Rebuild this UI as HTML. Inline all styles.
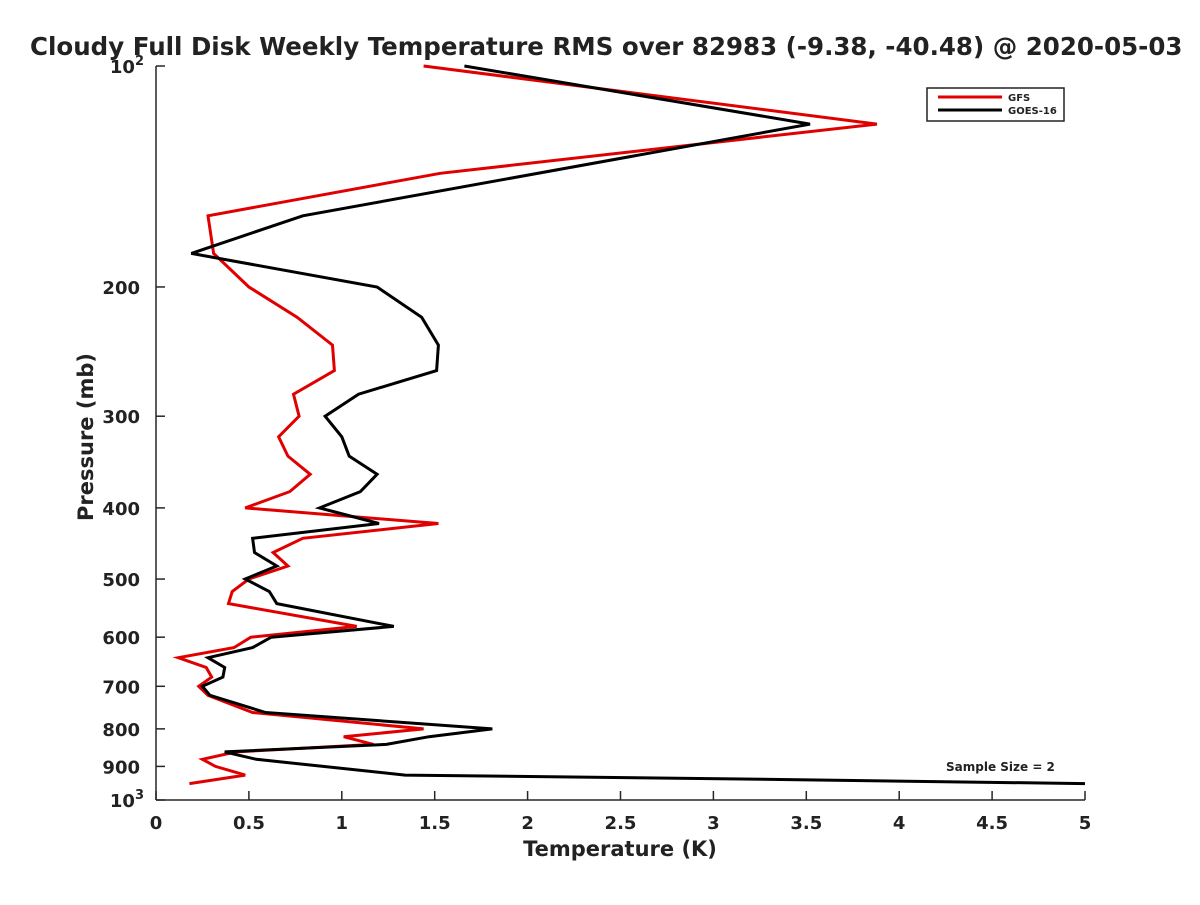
<!DOCTYPE html>
<html><head><meta charset="utf-8"><style>
body{margin:0;background:#fff;font-family:"Liberation Sans",sans-serif;}
svg text{font-family:"DejaVu Sans","Liberation Sans",sans-serif;font-weight:bold;fill:#222;}
</style></head><body>
<svg id="chart" width="1200" height="900" xmlns="http://www.w3.org/2000/svg">
<rect width="1200" height="900" fill="#fff"/>
<text x="30" y="55" font-size="24.5" fill="#000">Cloudy Full Disk Weekly Temperature RMS over 82983 (-9.38, -40.48) @ 2020-05-03</text>
<g id="axes"></g>
<g id="series"></g>
<text transform="translate(93,437) rotate(-90)" text-anchor="middle" font-size="21">Pressure (mb)</text>
<text x="620" y="856" text-anchor="middle" font-size="21">Temperature (K)</text>
<text x="946" y="771" font-size="12" fill="#000">Sample Size = 2</text>
<g>
<rect x="927" y="88" width="137" height="33" fill="#fff" stroke="#222" stroke-width="1.5"/>
<line x1="938" y1="97" x2="1002" y2="97" stroke="#e00000" stroke-width="3"/>
<text x="1008" y="101" font-size="10">GFS</text>
<line x1="938" y1="110" x2="1002" y2="110" stroke="#000" stroke-width="3"/>
<text x="1008" y="114" font-size="10">GOES-16</text>
</g>
</svg>
<script>
const pressureLevels=[100,120,140,160,180,200,220,240,260,280,300,320,340,360,380,400,420,440,460,480,500,520,540,580,600,620,640,660,680,700,720,760,800,820,840,860,880,900,925,950];
const gfsValues=[1.44,3.88,1.53,0.28,0.31,0.50,0.76,0.95,0.96,0.74,0.77,0.66,0.71,0.83,0.72,0.48,1.52,0.79,0.63,0.71,0.50,0.41,0.39,1.08,0.51,0.42,0.12,0.27,0.30,0.23,0.28,0.52,1.44,1.01,1.17,0.43,0.25,0.32,0.48,0.18];
const goesPressure=[100,120,160,180,200,220,240,260,280,300,320,340,360,380,400,420,440,460,480,500,520,540,580,600,620,640,660,680,700,720,760,800,820,840,860,880,900,925,935,950];
const goesValues=[1.66,3.52,0.79,0.19,1.19,1.43,1.52,1.51,1.09,0.91,1.00,1.04,1.19,1.10,0.88,1.20,0.52,0.53,0.65,0.48,0.61,0.65,1.28,0.62,0.52,0.28,0.37,0.36,0.25,0.29,0.59,1.81,1.47,1.24,0.37,0.54,0.90,1.34,2.98,5.0];
const xTicks=[0,0.5,1,1.5,2,2.5,3,3.5,4,4.5,5];
const xTickLabels=["0","0.5","1","1.5","2","2.5","3","3.5","4","4.5","5"];
const yTicks=[100,200,300,400,500,600,700,800,900,1000];
const yTickLabels=["10|2","200","300","400","500","600","700","800","900","10|3"];
const NS="http://www.w3.org/2000/svg";
const X0=156,X1=1085,Y0=66,Y1=800;
function xs(t){return X0+(t-0)/(5-0)*(X1-X0);}
function ys(p){return Y0+(Math.log10(p)-2)/(3-2)*(Y1-Y0);}
function mk(tag,attrs,parent){const e=document.createElementNS(NS,tag);for(const k in attrs)e.setAttribute(k,attrs[k]);parent.appendChild(e);return e;}
const axes=document.getElementById('axes');
const yax=mk('line',{x1:X0,y1:Y0,x2:X0,y2:Y1,stroke:'#262626','stroke-width':1.5},axes);


const xax=mk('line',{x1:X0,y1:Y1,x2:X1,y2:Y1,stroke:'#262626','stroke-width':1.5},axes);


xTicks.forEach((t,i)=>{
  const x=xs(t);
  const tk=mk('line',{x1:x,y1:Y1,x2:x,y2:Y1-9,stroke:'#262626','stroke-width':1.5},axes);
  
  
  const tx=mk('text',{x:x,y:Y1+29,'text-anchor':'middle','font-size':18},axes);
  
  
  tx.textContent=xTickLabels[i];
});
yTicks.forEach((p,i)=>{
  const y=ys(p);
  const tk=mk('line',{x1:X0,y1:y,x2:X0+9,y2:y,stroke:'#262626','stroke-width':1.5},axes);
  
  
  const lab=yTickLabels[i];
  if(lab.indexOf('|')>=0){
    const parts=lab.split('|');
    const tx=mk('text',{x:X0-12,y:y+7,'text-anchor':'end','font-size':18},axes);
    
    
    tx.textContent=parts[0];
    const sp=mk('tspan',{dy:-8,'font-size':13},tx);
    sp.textContent=parts[1];
  } else {
    const tx=mk('text',{x:X0-16,y:y+7,'text-anchor':'end','font-size':18},axes);
    
    
    tx.textContent=lab;
  }
});
const series=document.getElementById('series');
function line(vals,pres,color,name){
  const pts=vals.map((v,i)=>xs(v).toFixed(1)+','+ys(pres[i]).toFixed(1)).join(' ');
  const pl=mk('polyline',{points:pts,fill:'none',stroke:color,'stroke-width':3,'stroke-linejoin':'miter'},series);
  
  
}
line(gfsValues,pressureLevels,'#e00000','gfs-line');
line(goesValues,goesPressure,'#000000','goes16-line');
</script>
</body></html>
